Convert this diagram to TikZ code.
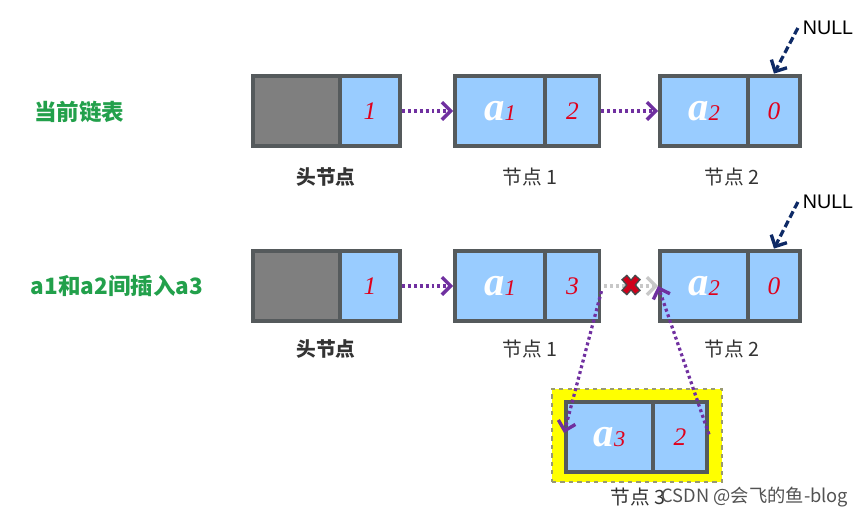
\documentclass[tikz,border=0pt]{standalone}
\usepackage{fontspec}
\setmainfont{Liberation Serif}
\setsansfont{Liberation Sans}
\newfontfamily\cjk{Noto Sans CJK SC}
\usetikzlibrary{arrows.meta,calc}
\definecolor{CellEdge}{HTML}{555A5C}
\definecolor{HeadFill}{HTML}{7F7F7F}
\definecolor{CellFill}{HTML}{99CCFF}
\definecolor{NumRed}{HTML}{E0001B}
\definecolor{TitleGreen}{HTML}{22A04B}
\definecolor{LinkPurple}{HTML}{7030A0}
\definecolor{NullNavy}{HTML}{0E2A66}
\definecolor{CutGray}{HTML}{C8C8C8}
\definecolor{CutRed}{HTML}{D0001A}
\definecolor{MarkYellow}{HTML}{FFFF00}
\definecolor{MarkEdge}{HTML}{9A9A70}
\definecolor{CapInk}{HTML}{333333}
\tikzset{
  cell/.style={draw=CellEdge, line width=2.8pt, fill=CellFill, inner sep=0pt,
    minimum height=1.77cm},
  headcell/.style={cell, fill=HeadFill, minimum width=2.175cm},
  datacell/.style={cell, minimum width=2.2cm},
  ptrcell/.style={cell, minimum width=1.35cm,
    font=\fontsize{18}{20}\selectfont\itshape, text=NumRed},
  caption/.style={font=\cjk\fontsize{14}{16}\selectfont, text=CapInk},
  title/.style={font=\cjk\bfseries\fontsize{16}{18}\selectfont, text=TitleGreen},
  nulltext/.style={font=\sffamily\fontsize{14}{16}\selectfont, text=black},
  link/.style={-{Straight Barb[length=2.2mm,width=4.4mm,line width=2.4pt]}, draw=LinkPurple,
    line width=2.3pt, dash pattern=on 2.1pt off 2.1pt},
  oldlink/.style={link, draw=CutGray},
  nullptr/.style={-{Straight Barb[length=2.2mm,width=4.4mm,line width=2.4pt]}, draw=NullNavy,
    line width=2.3pt, dash pattern=on 5pt off 2.5pt},
}
\newcommand\elem[1]{{\fontsize{29}{29}\selectfont\bfseries\itshape\color{white}a}%
  {\fontsize{16}{16}\selectfont\itshape\color{NumRed}#1}}

\begin{document}
\begin{tikzpicture}[x=0.025cm,y=-0.025cm]
  \useasboundingbox (0,0) rectangle (864,518);
  % Current list
  \node[title] (titleTop) at (79,112) {当前链表};
  \node[headcell] (headTop) at (296.5,111) {};
  \node[ptrcell, minimum width=1.5cm] (headTopPtr) at (370,111) {1};
  \node[datacell, minimum width=2.25cm] (aOneTop) at (500,111) {\elem{1}};
  \node[ptrcell] (aOneTopPtr) at (572.5,111) {2};
  \node[datacell] (aTwoTop) at (704,111) {\elem{2}};
  \node[ptrcell, minimum width=1.3cm] (aTwoTopPtr) at (774,111) {0};
  \node[caption, font=\cjk\bfseries\fontsize{14}{16}\selectfont] (capHeadTop) at (326,177) {头节点};
  \node[caption] (capOneTop) at (530,177) {节点 1};
  \node[caption] (capTwoTop) at (732,177) {节点 2};
  \node[nulltext] (nullTop) at (828,28) {NULL};
  \draw[link] (headTopPtr.east) -- (aOneTop.west);
  \draw[link] (aOneTopPtr.east) -- (aTwoTop.west);
  \draw[nullptr] (nullTop.west) -- (aTwoTopPtr.north);
  % After inserting a3
  \node[title] (titleBot) at (117,286) {a1和a2间插入a3};
  \node[headcell] (headBot) at (296.5,286) {};
  \node[ptrcell, minimum width=1.5cm] (headBotPtr) at (370,286) {1};
  \node[datacell, minimum width=2.25cm] (aOneBot) at (500,286) {\elem{1}};
  \node[ptrcell] (aOneBotPtr) at (572.5,286) {3};
  \node[datacell] (aTwoBot) at (704,286) {\elem{2}};
  \node[ptrcell, minimum width=1.3cm] (aTwoBotPtr) at (774,286) {0};
  \node[caption, font=\cjk\bfseries\fontsize{14}{16}\selectfont] (capHeadBot) at (326,349) {头节点};
  \node[caption] (capOneBot) at (530,349) {节点 1};
  \node[caption] (capTwoBot) at (732,349) {节点 2};
  \node[nulltext] (nullBot) at (828,202) {NULL};
  \draw[link] (headBotPtr.east) -- (aOneBot.west);
  \draw[oldlink] ([xshift=2pt]aOneBotPtr.east) -- (aTwoBot.west);
  \draw[nullptr] (nullBot.west) -- (aTwoBotPtr.north);
  % Cut mark on the old link
  \coordinate (cut) at (631,285);
  \draw[line width=5.5pt, CellEdge!80!black] ($(cut)+(-7,-8)$) -- ($(cut)+(7,8)$)
    ($(cut)+(-7,8)$) -- ($(cut)+(7,-8)$);
  \draw[line width=3.4pt, CutRed] ($(cut)+(-6,-7)$) -- ($(cut)+(6,7)$)
    ($(cut)+(-6,7)$) -- ($(cut)+(6,-7)$);
  % New node a3
  \node[draw=MarkEdge, fill=MarkYellow, dashed, line width=0.9pt, minimum width=4.25cm,
    minimum height=2.33cm] (insertBox) at (637,435.5) {};
  \node[datacell, minimum width=2.175cm] (aThree) at (609.5,437) {\elem{3}};
  \node[ptrcell] (aThreePtr) at (680,437) {2};
  \node[caption] (capThree) at (638,497) {节点 3};
  \node[font=\cjk\fontsize{13}{15}\selectfont, text=CapInk!85] (watermark) at (755,497) {CSDN @会飞的鱼-blog};
  \draw[link] (aOneBotPtr.-10) -- (aThree.175);
  \draw[link] (aThreePtr.5) -- (aTwoBot.west);
\end{tikzpicture}
\end{document}
